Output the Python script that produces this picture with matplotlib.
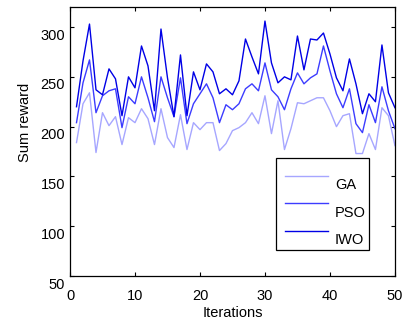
import numpy as np
import matplotlib
matplotlib.use('Agg')
import matplotlib.pyplot as plt
from matplotlib.patches import Rectangle
from matplotlib.lines import Line2D
from matplotlib.transforms import ScaledTranslation

plt.rcParams['font.family'] = ['Liberation Sans', 'DejaVu Sans']
plt.rcParams['font.size'] = 10.5

# 迭代次数与三种算法的总奖励
iterations = np.arange(1, 51)
ga = [184, 223, 234, 174, 214, 201, 210, 182, 209, 204,
      218, 208, 182, 218, 189, 179, 212, 177, 204, 197,
      204, 204, 176, 183, 196, 199, 204, 214, 203, 231,
      193, 226, 177, 198, 224, 223, 226, 229, 229, 216,
      200, 211, 213, 173, 173, 193, 177, 219, 211, 181]
pso = [204, 244, 267, 214, 231, 236, 238, 199, 230, 223,
       250, 229, 205, 250, 229, 210, 249, 203, 223, 233,
       243, 229, 204, 222, 217, 223, 238, 243, 236, 264,
       237, 230, 217, 238, 254, 243, 249, 253, 281, 256,
       233, 219, 238, 203, 194, 222, 204, 240, 216, 198]
iwo = [220, 266, 303, 237, 232, 258, 248, 211, 250, 239,
       281, 261, 216, 298, 249, 210, 272, 211, 255, 237,
       263, 255, 233, 238, 232, 246, 288, 270, 253, 306,
       264, 244, 250, 247, 291, 257, 288, 287, 294, 273,
       249, 236, 268, 243, 213, 233, 225, 282, 234, 219]

labels = ['GA', 'PSO', 'IWO']
colors = ['#a6a6ff', '#3c3cff', '#0000e6']

fig = plt.figure(figsize=(4.03, 3.24), dpi=100)
ax = fig.add_axes([0.1737, 0.148, 0.8063, 0.830])

for y, c in zip([ga, pso, iwo], colors):
    ax.plot(iterations, y, color=c, lw=1.0)

ax.set_xlim(0, 50)
ax.set_ylim(50, 320)
ax.set_xticks(range(0, 51, 10))
ax.set_yticks(range(50, 301, 50))
ax.tick_params(direction='in', top=True, right=True, length=3, width=0.8)
ax.tick_params(axis='x', pad=9.5)
for s in ax.spines.values():
    s.set_linewidth(0.9)
# y 刻度标签略向下偏移（MATLAB 风格）
shift = ScaledTranslation(0, -7 / 100, fig.dpi_scale_trans)
for lab in ax.get_yticklabels():
    lab.set_transform(lab.get_transform() + shift)
ax.set_xlabel('Iterations', labelpad=2)
ax.set_ylabel('Sum reward')
ax.yaxis.set_label_coords(-0.118, 0.57)

# 手动绘制 MATLAB 风格图例
ax.add_patch(Rectangle((0.634, 0.097), 0.286, 0.342, transform=ax.transAxes,
                       facecolor='white', edgecolor='black', lw=0.9, zorder=5))
line_y = [0.372, 0.270, 0.167]
text_y = [0.338, 0.234, 0.134]
for lab, c, ly, ty in zip(labels, colors, line_y, text_y):
    ax.add_line(Line2D([0.662, 0.794], [ly, ly], transform=ax.transAxes,
                       color=c, lw=1.0, zorder=6))
    ax.text(0.815, ty, lab, transform=ax.transAxes, va='center', ha='left',
            zorder=6)

fig.savefig('out.png', dpi=100)
